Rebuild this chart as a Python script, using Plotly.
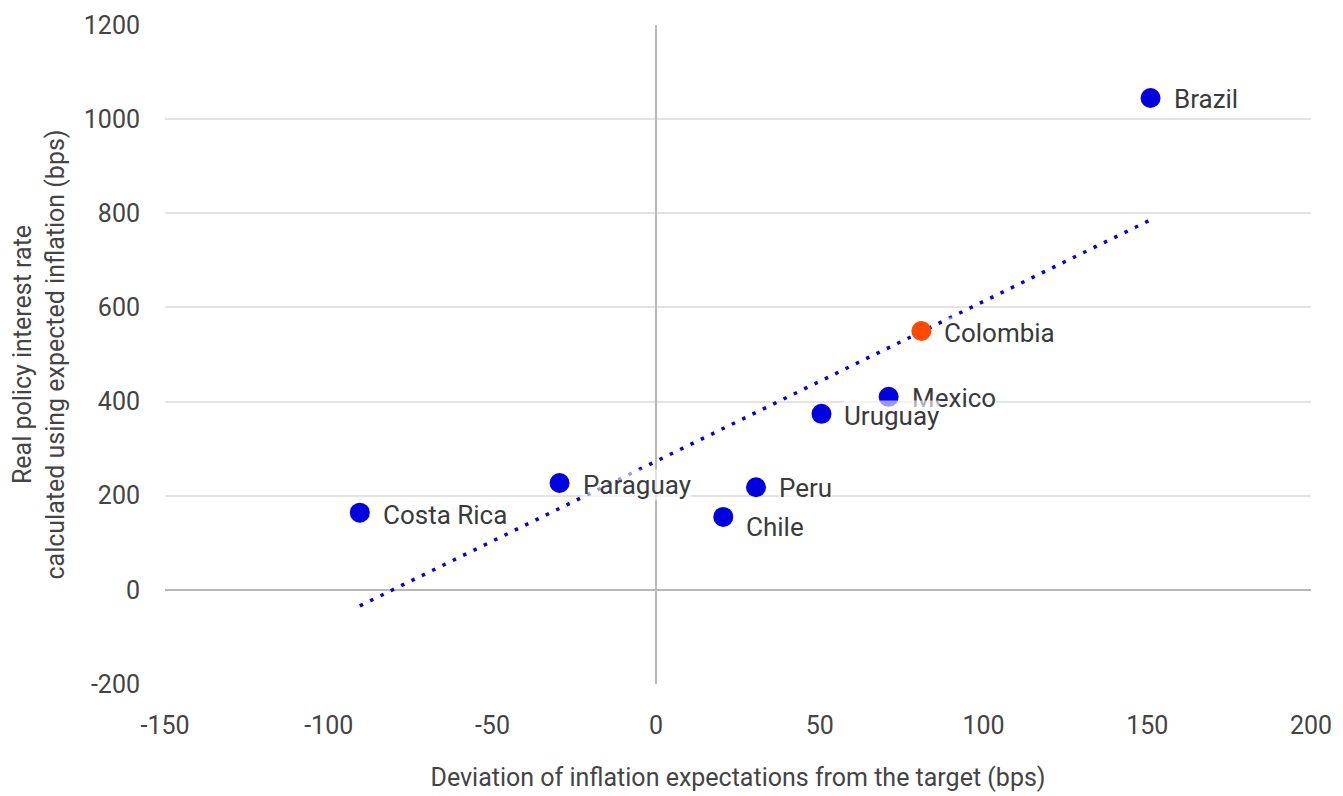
import plotly.graph_objects as go

countries = ["Brazil", "Colombia", "Mexico", "Uruguay", "Peru", "Chile", "Paraguay", "Costa Rica"]
deviation = [151, 81, 71, 50.5, 30.5, 20.5, -29.5, -90.5]
real_rate = [1045, 550, 410, 374, 218, 155, 227, 164]
colors = ["#0000e0", "#ff4a00", "#0000e0", "#0000e0", "#0000e0", "#0000e0", "#0000e0", "#0000e0"]
label_yshift = [-1, -2, -1, -2, -1, -10, -2, -2]

trend_x = [-90.5, 151]
trend_y = [-34, 786]

x_ticks = [-150, -100, -50, 0, 50, 100, 150, 200]
y_ticks = [-200, 0, 200, 400, 600, 800, 1000, 1200]

fig = go.Figure()
fig.add_trace(go.Scatter(
    x=trend_x, y=trend_y, mode="lines",
    line=dict(color="#0000e0", width=3.5, dash="3.5px,8px"),
    hoverinfo="skip", showlegend=False,
))
fig.add_trace(go.Scatter(
    x=deviation, y=real_rate, mode="markers",
    marker=dict(color=colors, size=20, line=dict(width=0)),
    text=countries, showlegend=False,
))

for i in range(len(countries)):
    fig.add_annotation(
        x=deviation[i], y=real_rate[i], text=countries[i],
        showarrow=False, xanchor="left", yanchor="middle",
        xshift=22, yshift=label_yshift[i],
        font=dict(family="Roboto", size=26, color="#3a3a3a"),
        bgcolor="rgba(255,255,255,0.6)", borderpad=0,
    )

axis_font = dict(family="Roboto", size=25, color="#444444")
fig.update_layout(
    width=1327, height=788,
    margin=dict(l=157, r=24, t=17, b=112, autoexpand=False),
    paper_bgcolor="white", plot_bgcolor="white",
    font=dict(family="Roboto", color="#444444"),
    xaxis=dict(
        range=[-150, 200], tickvals=x_ticks, ticktext=[str(v) for v in x_ticks],
        showgrid=False, zeroline=True, zerolinecolor="#b8b8b8", zerolinewidth=2,
        tickfont=axis_font, ticks="", ticklabelstandoff=24, automargin=False,
        title=dict(text="Deviation of inflation expectations from the target (bps)",
                   font=dict(family="Roboto", size=25, color="#444444"), standoff=29),
    ),
    yaxis=dict(
        range=[-200, 1200], tickvals=y_ticks, ticktext=[str(v) for v in y_ticks],
        showgrid=True, gridcolor="#e3e3e3", gridwidth=1.5,
        zeroline=True, zerolinecolor="#b8b8b8", zerolinewidth=2,
        tickfont=axis_font, ticks="", ticklabelstandoff=24, automargin=False,
        title=dict(text="Real policy interest rate<br>calculated using expected inflation (bps)",
                   font=dict(family="Roboto", size=25, color="#444444"), standoff=15),
    ),
)

fig.write_html("out.html")
